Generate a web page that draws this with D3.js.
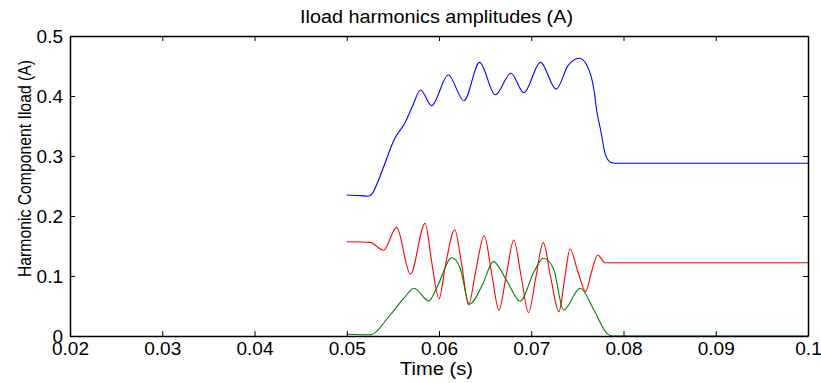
<!DOCTYPE html>
<html>
<head>
<meta charset="utf-8">
<script src="https://cdn.jsdelivr.net/npm/d3@7/dist/d3.min.js"></script>
<style>
  html, body { margin: 0; padding: 0; background: #fff; }
  svg { display: block; }
  text { font-family: "Liberation Sans", Arial, sans-serif; fill: #000; }
</style>
</head>
<body>
<svg id="chart" width="821" height="383"></svg>
<script>
// ---- data ----
const xTicks = [0.02, 0.03, 0.04, 0.05, 0.06, 0.07, 0.08, 0.09, 0.1];
const xTickLabels = ["0.02", "0.03", "0.04", "0.05", "0.06", "0.07", "0.08", "0.09", "0.1"];
const yTicks = [0, 0.1, 0.2, 0.3, 0.4, 0.5];
const yTickLabels = ["0", "0.1", "0.2", "0.3", "0.4", "0.5"];

const blueTime = [0.05, 0.0515, 0.0523, 0.0528, 0.0533, 0.0540, 0.0552, 0.0563, 0.0571, 0.0580, 0.0592, 0.0610, 0.0627, 0.0644, 0.0661, 0.0678, 0.0692, 0.0710, 0.0727, 0.0740, 0.0752, 0.0760, 0.0768, 0.0771, 0.0775, 0.0780, 0.0786, 0.0790, 0.1];
const blueValue = [0.235, 0.234, 0.233, 0.238, 0.2545, 0.282, 0.329, 0.355, 0.382, 0.410, 0.384, 0.435, 0.392, 0.456, 0.402, 0.438, 0.4055, 0.456, 0.4115, 0.451, 0.463, 0.452, 0.41, 0.375, 0.345, 0.3045, 0.2895, 0.288, 0.288];

const redTime = [0.05, 0.0525, 0.0540, 0.0554, 0.0569, 0.0585, 0.0592, 0.0600, 0.0607, 0.0617, 0.0625, 0.0632, 0.0640, 0.0649, 0.0657, 0.0665, 0.0673, 0.0681, 0.0689, 0.0697, 0.0705, 0.0713, 0.0721, 0.0730, 0.0736, 0.0742, 0.0750, 0.0759, 0.0765, 0.0772, 0.0780, 0.1];
const redValue = [0.157, 0.156, 0.143, 0.181, 0.103, 0.188, 0.124, 0.062, 0.118, 0.177, 0.115, 0.052, 0.110, 0.167, 0.105, 0.043, 0.102, 0.160, 0.100, 0.039, 0.098, 0.156, 0.098, 0.0405, 0.093, 0.145, 0.110, 0.074, 0.105, 0.135, 0.122, 0.122];

const greenTime = [0.05, 0.0525, 0.0547, 0.0562, 0.0573, 0.0589, 0.0598, 0.0614, 0.0623, 0.0633, 0.0647, 0.0659, 0.0674, 0.0688, 0.0703, 0.0713, 0.0724, 0.0735, 0.0753, 0.0768, 0.0782, 0.0788, 0.1];
const greenValue = [0.003, 0.002, 0.035, 0.063, 0.0795, 0.0583, 0.082, 0.1305, 0.113, 0.053, 0.085, 0.124, 0.0905, 0.0583, 0.107, 0.1295, 0.113, 0.0433, 0.0795, 0.0433, 0.0045, 0, 0];

const seriesColors = ["#0000ff", "#ff0000", "#008000"];

// ---- layout ----
const svg = d3.select("#chart");
const W = 821, H = 383;
const margin = { left: 70, right: 13, top: 36, bottom: 47 };
const plotW = W - margin.left - margin.right;
const plotH = H - margin.top - margin.bottom;

const x = d3.scaleLinear().domain([0.02, 0.1]).range([margin.left, margin.left + plotW]);
const y = d3.scaleLinear().domain([0, 0.5]).range([margin.top + plotH, margin.top]);

const tickLen = 5;

// lines
const line = d3.line().x(d => x(d[0])).y(d => y(d[1])).curve(d3.curveMonotoneX);
const series = [
  d3.zip(blueTime, blueValue),
  d3.zip(redTime, redValue),
  d3.zip(greenTime, greenValue)
];
svg.append("g").selectAll("path").data(series).join("path")
  .attr("d", line)
  .attr("fill", "none")
  .attr("stroke", (d, i) => seriesColors[i])
  .attr("stroke-width", 1.1);

// axes (MATLAB-style box with inward ticks)
const xBottom = d3.axisBottom(x).tickValues(xTicks).tickSizeInner(-tickLen).tickSizeOuter(0)
  .tickFormat((d, i) => xTickLabels[i]).tickPadding(6);
const xTop = d3.axisTop(x).tickValues(xTicks).tickSizeInner(-tickLen).tickSizeOuter(0).tickFormat("");
const yLeft = d3.axisLeft(y).tickValues(yTicks).tickSizeInner(-tickLen).tickSizeOuter(0)
  .tickFormat((d, i) => yTickLabels[i]).tickPadding(7);
const yRight = d3.axisRight(y).tickValues(yTicks).tickSizeInner(-tickLen).tickSizeOuter(0).tickFormat("");

const gb = svg.append("g").attr("transform", `translate(0,${margin.top + plotH})`).call(xBottom);
const gt = svg.append("g").attr("transform", `translate(0,${margin.top})`).call(xTop);
const gl = svg.append("g").attr("transform", `translate(${margin.left},0)`).call(yLeft);
const gr = svg.append("g").attr("transform", `translate(${margin.left + plotW},0)`).call(yRight);

[gb, gt, gl, gr].forEach(g => {
  g.selectAll(".domain").attr("stroke", "#000").attr("stroke-width", 1.5);
  g.selectAll(".tick line").attr("stroke", "#000").attr("stroke-width", 1);
  g.selectAll("text").style("font-family", "'Liberation Sans', Arial, sans-serif")
    .style("font-size", "19px").attr("fill", "#000");
});
gb.selectAll(".tick text").attr("dy", "0.71em");
gl.selectAll(".tick text").attr("dy", "0.35em");

// title & labels
svg.append("text")
  .attr("x", 436.5).attr("y", 23.3)
  .attr("text-anchor", "middle")
  .style("font-size", "18px")
  .attr("textLength", 273).attr("lengthAdjust", "spacingAndGlyphs")
  .text("Iload harmonics amplitudes (A)");

svg.append("text")
  .attr("x", 436.5).attr("y", 375)
  .attr("text-anchor", "middle")
  .style("font-size", "18px")
  .attr("textLength", 73).attr("lengthAdjust", "spacingAndGlyphs")
  .text("Time (s)");

svg.append("text")
  .attr("transform", "translate(30.5,168.5) rotate(-90)")
  .attr("text-anchor", "middle")
  .style("font-size", "19px")
  .attr("textLength", 217).attr("lengthAdjust", "spacingAndGlyphs")
  .text("Harmonic Component Iload (A)");
</script>
</body>
</html>
